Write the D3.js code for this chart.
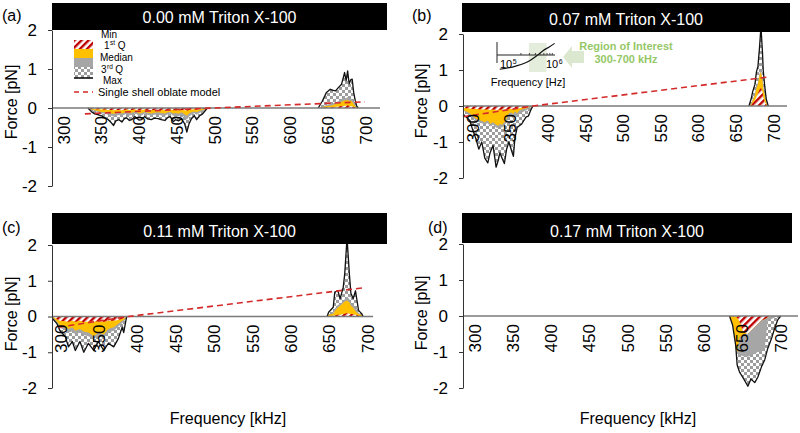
<!DOCTYPE html>
<html><head><meta charset="utf-8">
<script src="https://cdn.jsdelivr.net/npm/d3@7"></script>
<style>body{margin:0;background:#fff;} svg{display:block;font-family:"Liberation Sans",Arial,sans-serif;}</style>
</head><body>
<svg id="chart" width="800" height="433"></svg>
<script>
// ---------- data ----------
const yTicks = [-2, -1, 0, 1, 2];
const xTicks = [300, 350, 400, 450, 500, 550, 600, 650, 700];
const panelLabels = ["(a)", "(b)", "(c)", "(d)"];
const panelTitles = ["0.00 mM Triton X-100", "0.07 mM Triton X-100", "0.11 mM Triton X-100", "0.17 mM Triton X-100"];
const yTitle = "Force [pN]";
const xTitle = "Frequency [kHz]";

// Panel (a)
const freqA = [333,338,342,346,351,355,360,364,367,370,374,378,381,384,388,391,395,398,401,404,408,412,417,421,426,430,435,439,442,446,449,453,457,461,464,467,470,474,477,481,485,488,491, null,
  638,643,649,654,658,661,665,669,673,675,677,679,681,683,685,687,689,691];
const maxA = [0,-0.1,-0.15,-0.17,-0.2,-0.25,-0.3,-0.38,-0.45,-0.33,-0.3,-0.36,-0.28,-0.25,-0.32,-0.3,-0.22,-0.27,-0.31,-0.3,-0.22,-0.28,-0.3,-0.26,-0.27,-0.3,-0.32,-0.24,-0.22,-0.35,-0.3,-0.33,-0.28,-0.4,-0.62,-0.4,-0.28,-0.2,-0.3,-0.2,-0.15,-0.08,0, null,
  0,0.16,0.4,0.48,0.45,0.44,0.53,0.61,0.91,0.7,0.95,0.62,0.72,0.74,0.4,0.2,0.05,0];
const q3A = [0,-0.05,-0.08,-0.1,-0.13,-0.15,-0.17,-0.2,-0.22,-0.2,-0.18,-0.2,-0.17,-0.15,-0.19,-0.18,-0.14,-0.16,-0.2,-0.19,-0.14,-0.17,-0.2,-0.17,-0.16,-0.19,-0.2,-0.16,-0.14,-0.2,-0.19,-0.21,-0.17,-0.24,-0.3,-0.22,-0.17,-0.13,-0.17,-0.12,-0.09,-0.05,0, null,
  0,0.03,0.08,0.1,0.12,0.14,0.18,0.22,0.26,0.25,0.28,0.24,0.25,0.22,0.15,0.08,0.03,0];
const medA = [0,-0.04,-0.06,-0.08,-0.1,-0.11,-0.12,-0.14,-0.15,-0.14,-0.12,-0.14,-0.12,-0.1,-0.13,-0.12,-0.1,-0.11,-0.14,-0.13,-0.1,-0.12,-0.14,-0.12,-0.11,-0.13,-0.14,-0.11,-0.1,-0.14,-0.13,-0.15,-0.11,-0.16,-0.2,-0.14,-0.11,-0.09,-0.11,-0.07,-0.05,-0.03,0, null,
  0,0.02,0.05,0.06,0.08,0.1,0.13,0.16,0.2,0.19,0.21,0.18,0.19,0.16,0.1,0.05,0.02,0];
const q1A = [0,-0.02,-0.03,-0.03,-0.04,-0.04,-0.05,-0.05,-0.06,-0.05,-0.05,-0.06,-0.05,-0.04,-0.05,-0.05,-0.04,-0.05,-0.06,-0.05,-0.04,-0.05,-0.06,-0.05,-0.05,-0.05,-0.06,-0.05,-0.04,-0.06,-0.05,-0.06,-0.05,-0.06,-0.07,-0.05,-0.04,-0.03,-0.04,-0.03,-0.02,-0.01,0, null,
  0,0,0.01,0.02,0.02,0.03,0.04,0.05,0.06,0.06,0.07,0.05,0.05,0.04,0.03,0.02,0,0];
const modelFreqA = [329, 499, 700];
const modelA = [-0.15, 0, 0.16];

// Panel (b)
const freqB = [288,292,297,301,305,309,313,317,321,324,328,332,335,337,340,343,346,349,352,355,357,360,363,366,369,372,375,378,381, null,
  668,671,673,676,678,680,682,684,686,687,689,691,693,694];
const maxB = [-0.25,-0.3,-0.4,-0.67,-0.9,-1.2,-1.0,-1.45,-1.58,-1.3,-1.1,-1.7,-1.5,-1.3,-1.45,-1.6,-1.2,-1.0,-1.2,-1.4,-0.9,-0.6,-0.55,-0.5,-0.4,-0.3,-0.28,-0.12,0, null,
  0,0.2,0.4,0.6,0.95,1.1,1.6,2.2,1.5,1.0,0.55,0.2,0.05,0];
const q3B = [-0.12,-0.18,-0.25,-0.32,-0.4,-0.45,-0.48,-0.5,-0.48,-0.56,-0.52,-0.6,-0.62,-0.58,-0.6,-0.55,-0.45,-0.32,-0.3,-0.35,-0.3,-0.3,-0.22,-0.18,-0.15,-0.12,-0.08,-0.04,0, null,
  0,0.07,0.18,0.35,0.55,0.65,0.9,1.0,0.75,0.55,0.33,0.12,0.02,0];
const medB = [-0.1,-0.15,-0.2,-0.28,-0.35,-0.38,-0.42,-0.45,-0.4,-0.5,-0.45,-0.52,-0.55,-0.5,-0.52,-0.45,-0.35,-0.2,-0.18,-0.22,-0.15,-0.2,-0.12,-0.1,-0.08,-0.06,-0.04,-0.02,0, null,
  0,0.05,0.15,0.3,0.5,0.6,0.85,0.95,0.7,0.5,0.3,0.1,0,0];
const q1B = [-0.05,-0.06,-0.07,-0.08,-0.08,-0.09,-0.1,-0.1,-0.1,-0.11,-0.1,-0.12,-0.12,-0.1,-0.11,-0.1,-0.1,-0.08,-0.08,-0.09,-0.07,-0.08,-0.06,-0.05,-0.04,-0.03,-0.02,-0.01,0, null,
  0,0.02,0.08,0.15,0.25,0.35,0.45,0.5,0.4,0.25,0.12,0.04,0,0];
const modelFreqB = [288, 381, 696];
const modelB = [-0.3, 0, 0.81];

// Panel (c)
const freqC = [290,294,296,300,307,311,316,320,326,331,337,344,350,357,363,370,376,381,383,386,387, null,
  648,650,656,658,662,665,669,671,674,677,679,682,685,689,693,695];
const maxC = [-0.05,-0.15,-0.2,-0.4,-0.57,-0.85,-0.7,-0.95,-0.7,-1.0,-0.75,-0.95,-0.7,-0.95,-0.75,-0.85,-0.62,-0.3,-0.45,-0.1,0, null,
  0,0.12,0.26,0.68,0.72,0.5,0.81,1.2,2.2,1.2,0.65,0.5,0.72,0.17,0.08,0];
const q3C = [-0.03,-0.13,-0.2,-0.32,-0.38,-0.45,-0.42,-0.5,-0.45,-0.52,-0.55,-0.62,-0.55,-0.6,-0.45,-0.4,-0.28,-0.18,-0.15,-0.05,0, null,
  0,0.06,0.1,0.22,0.32,0.35,0.42,0.48,0.55,0.48,0.36,0.32,0.25,0.1,0.05,0];
const medC = [-0.02,-0.1,-0.15,-0.25,-0.3,-0.35,-0.3,-0.4,-0.35,-0.42,-0.45,-0.55,-0.45,-0.5,-0.35,-0.3,-0.2,-0.12,-0.1,-0.03,0, null,
  0,0.05,0.08,0.15,0.25,0.3,0.38,0.42,0.45,0.4,0.3,0.25,0.15,0.07,0.04,0];
const q1C = [-0.01,-0.05,-0.08,-0.12,-0.13,-0.15,-0.12,-0.15,-0.12,-0.16,-0.14,-0.15,-0.13,-0.15,-0.12,-0.12,-0.1,-0.06,-0.05,-0.02,0, null,
  0,0.01,0.02,0.03,0.05,0.05,0.07,0.08,0.1,0.08,0.07,0.06,0.05,0.02,0.01,0];
const modelFreqC = [298, 389, 698];
const modelC = [-0.3, 0, 0.81];

// Panel (d)
const freqD = [634,638,642,644,647,652,658,662,667,671,676,680,684,689,693,697,701];
const maxD = [0,-0.25,-0.8,-1.36,-1.55,-1.73,-1.95,-1.75,-1.85,-1.7,-1.4,-1.22,-0.9,-0.62,-0.34,-0.11,0];
const q3D = [0,-0.2,-0.75,-1.05,-1.08,-1.12,-1.13,-1.1,-1.05,-1.0,-1.0,-0.9,-0.12,-0.08,-0.04,0,0];
const medD = [0,-0.2,-0.72,-1.02,-0.6,-0.5,-0.5,-0.4,-0.3,-0.22,-0.12,-0.08,-0.04,0,0,0,0];
const q1D = [0,0,-0.02,-0.05,-0.15,-0.45,-0.5,-0.4,-0.3,-0.22,-0.12,-0.08,-0.04,0,0,0,0];
const modelFreqD = [];
const modelD = [];

// Legend / inset
const legendLabels = ["Min", "1", "Median", "3", "Max", "Single shell oblate model"];
const legendSup = ["", "st", "", "rd", "", ""];
const insetFreq = [7.4e4, 1.6e5, 3.1e5, 4.3e5, 5.9e5, 8.1e5, 1.03e6];
const insetCM = [-1.02, -0.79, -0.41, -0.07, 0.31, 0.59, 0.83];
const insetMinorTicks = [2e5, 3e5, 4e5, 5e5, 6e5, 7e5, 8e5, 9e5];
const insetRegion = [3e5, 7e5];

// ---------- layout ----------
const layout = [
  {lx:2,   ly:21,  axisX:52,  x300:63,  x700:365, zeroEnd:380, y2:30,  yM2:186, head:[52,3,387,30],    tBase:23.3, ytx:11,  yty:102},
  {lx:412, ly:21,  axisX:463, x300:472, x700:773, zeroEnd:787, y2:34,  yM2:178, head:[462,3,790,32],   tBase:25.3, ytx:421, yty:101},
  {lx:2,   ly:233, axisX:52,  x300:60,  x700:367, zeroEnd:373, y2:245, yM2:388, head:[52,213,387,244], tBase:236.8, ytx:11, yty:314, xt:[228,424]},
  {lx:428, ly:233, axisX:463, x300:474, x700:780, zeroEnd:798, y2:244, yM2:388, head:[462,213,792,243], tBase:236.5, ytx:421, yty:313, xt:[638,424]}
];
const panels = [
  {freq:freqA, max:maxA, q3:q3A, med:medA, q1:q1A, mf:modelFreqA, mv:modelA},
  {freq:freqB, max:maxB, q3:q3B, med:medB, q1:q1B, mf:modelFreqB, mv:modelB},
  {freq:freqC, max:maxC, q3:q3C, med:medC, q1:q1C, mf:modelFreqC, mv:modelC},
  {freq:freqD, max:maxD, q3:q3D, med:medD, q1:q1D, mf:modelFreqD, mv:modelD}
];
const FONT = '"Liberation Sans", Arial, sans-serif';
const GOLD = "#ffc000", GRAY = "#a6a6a6", RED = "#d42a2a";

const svg = d3.select("#chart");
const defs = svg.append("defs");
const ck = defs.append("pattern").attr("id","checker").attr("patternUnits","userSpaceOnUse").attr("width",6).attr("height",6);
ck.append("rect").attr("width",6).attr("height",6).attr("fill","#fff");
ck.append("rect").attr("width",3).attr("height",3).attr("fill","#9c9c9c");
ck.append("rect").attr("x",3).attr("y",3).attr("width",3).attr("height",3).attr("fill","#9c9c9c");
const ht = defs.append("pattern").attr("id","hatch").attr("patternUnits","userSpaceOnUse").attr("width",5).attr("height",5).attr("patternTransform","rotate(45)");
ht.append("rect").attr("width",5).attr("height",5).attr("fill","#fff");
ht.append("rect").attr("width",2.4).attr("height",5).attr("fill","#c00000");

panels.forEach((p, i) => {
  const L = layout[i];
  const x = d3.scaleLinear().domain([300, 700]).range([L.x300, L.x700]);
  const y = d3.scaleLinear().domain([-2, 2]).range([L.yM2, L.y2]);
  const g = svg.append("g");
  const rows = p.freq.map((f, k) => ({f, max:p.max[k], q3:p.q3[k], med:p.med[k], q1:p.q1[k]}));
  const def = d => d.f != null;
  const area = key => d3.area().defined(def).x(d => x(d.f)).y0(y(0)).y1(d => y(d[key]));
  [["max","url(#checker)"],["q3",GRAY],["med",GOLD],["q1","url(#hatch)"]].forEach(([k, fill]) =>
    g.append("path").datum(rows).attr("d", area(k)).attr("fill", fill));
  g.append("path").datum(rows)
    .attr("d", d3.line().defined(def).x(d => x(d.f)).y(d => y(d.max)))
    .attr("fill","none").attr("stroke","#111").attr("stroke-width",1.3).attr("stroke-linejoin","round");

  // zero line
  g.append("line").attr("x1",L.axisX).attr("x2",L.zeroEnd).attr("y1",y(0)).attr("y2",y(0))
    .attr("stroke","#7a7a7a").attr("stroke-width",1.3);

  // model line
  if (p.mf.length) {
    const md = p.mf.map((f, k) => [f, p.mv[k]]);
    g.append("path").datum(md).attr("d", d3.line().x(d => x(d[0])).y(d => y(d[1])))
      .attr("fill","none").attr("stroke",RED).attr("stroke-width",1.6).attr("stroke-dasharray","6,4");
  }

  // x tick labels
  const xa = g.append("g").attr("transform",`translate(0,${y(0)})`)
    .call(d3.axisBottom(x).tickValues(xTicks).tickSize(0).tickFormat(d3.format("d")));
  xa.select(".domain").remove();
  xa.attr("font-family",FONT).attr("font-size",17);
  xa.selectAll("text").attr("transform","rotate(-90)").attr("x",-8).attr("y",0)
    .attr("dy","0.36em").attr("text-anchor","end").attr("fill","#000");

  // y axis
  const ya = g.append("g").attr("transform",`translate(${L.axisX},0)`)
    .call(d3.axisLeft(y).tickValues(yTicks).tickSize(4).tickSizeOuter(0).tickPadding(11).tickFormat(d3.format("d")));
  ya.attr("font-family",FONT).attr("font-size",17);
  ya.select(".domain").attr("stroke","#333");
  ya.selectAll(".tick line").attr("stroke","#333");
  ya.selectAll("text").attr("fill","#000").text(d => d < 0 ? "-" + Math.abs(d) : d);

  // header
  const [hx0, hy0, hx1, hy1] = L.head;
  g.append("rect").attr("x",hx0).attr("y",hy0).attr("width",hx1-hx0).attr("height",hy1-hy0).attr("fill","#000");
  g.append("text").attr("x",(hx0+hx1)/2).attr("y",L.tBase).attr("text-anchor","middle")
    .attr("fill","#fff").attr("font-size",16).attr("font-family",FONT).text(panelTitles[i]);

  // panel label
  g.append("text").attr("x",L.lx).attr("y",L.ly).attr("font-size",16).attr("font-family",FONT).text(panelLabels[i]);

  // y title
  g.append("text").attr("transform",`translate(${L.ytx},${L.yty}) rotate(-90)`).attr("text-anchor","middle")
    .attr("dy","0.35em").attr("font-size",16).attr("font-family",FONT).text(yTitle);

  // x title
  if (L.xt) g.append("text").attr("x",L.xt[0]).attr("y",L.xt[1]).attr("text-anchor","middle")
    .attr("font-size",16).attr("font-family",FONT).text(xTitle);
});

// ---------- legend (panel a) ----------
const lg = svg.append("g").attr("font-family",FONT).attr("font-size",10);
lg.append("rect").attr("x",74).attr("y",40).attr("width",19).attr("height",9).attr("fill","url(#hatch)");
lg.append("rect").attr("x",74).attr("y",49).attr("width",19).attr("height",9).attr("fill",GOLD);
lg.append("rect").attr("x",74).attr("y",58).attr("width",19).attr("height",9).attr("fill",GRAY);
lg.append("rect").attr("x",74).attr("y",67).attr("width",19).attr("height",11).attr("fill","url(#checker)");
lg.append("line").attr("x1",74).attr("x2",93).attr("y1",78).attr("y2",78).attr("stroke","#000").attr("stroke-width",1.5);
const legPos = [[101,37.5],[104,49.2],[100,60.9],[101,72.6],[103,84.3]];
legPos.forEach(([lx, ly], k) => {
  const t = lg.append("text").attr("x",lx).attr("y",ly).text(legendLabels[k]);
  if (legendSup[k]) {
    const w = t.node().getComputedTextLength();
    const s = lg.append("text").attr("x",lx + w + 0.5).attr("y",ly - 4).attr("font-size",6.5).text(legendSup[k]);
    const w2 = s.node().getComputedTextLength();
    lg.append("text").attr("x",lx + w + w2 + 3).attr("y",ly).text("Q");
  }
});
lg.append("line").attr("x1",74).attr("x2",93).attr("y1",92).attr("y2",92).attr("stroke",RED).attr("stroke-width",1.6).attr("stroke-dasharray","5,4");
lg.append("text").attr("x",98).attr("y",96).attr("font-size",11).text(legendLabels[5]);

// ---------- inset (panel b) ----------
const ig = svg.append("g").attr("font-family",FONT);
const xi = d3.scaleLog().domain([1e5, 1e6]).range([506, 554]);
const yi = d3.scaleLinear().domain([-1, 1]).range([69, 41]);
ig.append("rect").attr("x",xi(insetRegion[0])).attr("y",43).attr("width",xi(insetRegion[1])-xi(insetRegion[0])).attr("height",29)
  .attr("fill","#e4ecdc");
ig.append("line").attr("x1",497).attr("x2",497).attr("y1",42).attr("y2",63).attr("stroke","#222").attr("stroke-width",1);
ig.append("line").attr("x1",497).attr("x2",555).attr("y1",yi(0)).attr("y2",yi(0)).attr("stroke","#222").attr("stroke-width",1);
const ia = ig.append("g").attr("transform",`translate(0,${yi(0)})`)
  .call(d3.axisTop(xi).tickValues(insetMinorTicks).tickSize(2).tickFormat(""));
ia.select(".domain").remove();
ia.selectAll(".tick line").attr("stroke","#444");
ig.append("path").datum(insetFreq.map((f, k) => [f, insetCM[k]]))
  .attr("d", d3.line().curve(d3.curveMonotoneX).x(d => xi(d[0])).y(d => yi(d[1])))
  .attr("fill","none").attr("stroke","#111").attr("stroke-width",1.2);
[["5", 500], ["6", 546]].forEach(([e, px]) => {
  const t = ig.append("text").attr("x",px).attr("y",68).attr("font-size",11).text("10");
  const w = t.node().getComputedTextLength();
  ig.append("text").attr("x",px + w + 0.5).attr("y",64).attr("font-size",7).text(e);
});
ig.append("text").attr("x",528).attr("y",86).attr("text-anchor","middle").attr("font-size",11).text("Frequency [Hz]");
// arrow
ig.append("path").attr("d","M563,57 L572,46 L572,51 L584,51 L584,63 L572,63 L572,68 Z").attr("fill","#dbe8cf");
ig.append("text").attr("x",626).attr("y",50).attr("text-anchor","middle").attr("font-size",11).attr("font-weight","bold")
  .attr("fill","#95c868").text("Region of Interest");
ig.append("text").attr("x",626).attr("y",63).attr("text-anchor","middle").attr("font-size",11).attr("font-weight","bold")
  .attr("fill","#95c868").text("300-700 kHz");
</script>
</body></html>
